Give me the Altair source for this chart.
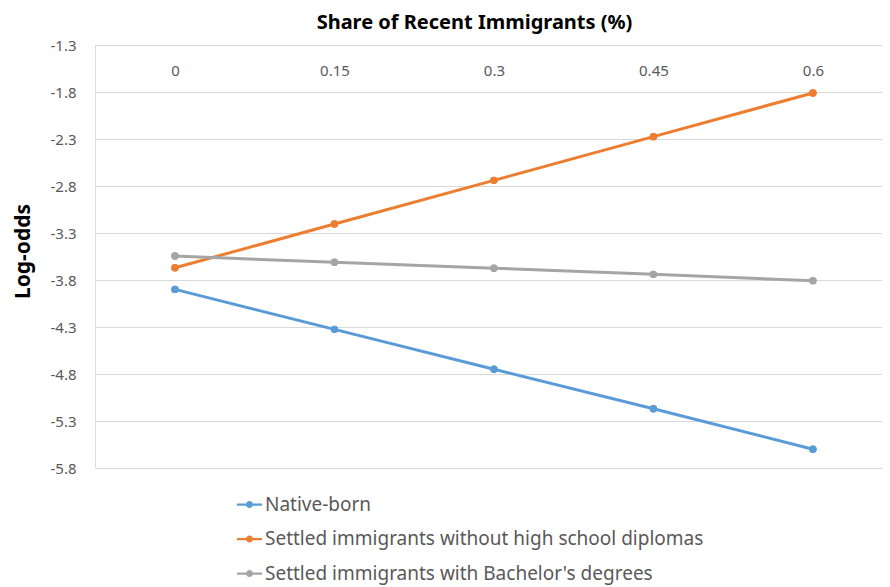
import altair as alt
import pandas as pd

shares = [0, 0.15, 0.3, 0.45, 0.6]
series_names = [
    "Native-born",
    "Settled immigrants without high school diplomas",
    "Settled immigrants with Bachelor's degrees",
]
native_born = [-3.90, -4.325, -4.75, -5.17, -5.60]
no_diploma = [-3.67, -3.205, -2.74, -2.275, -1.81]
bachelors = [-3.545, -3.612, -3.675, -3.74, -3.807]
colors = ["#5b9bd5", "#ed7d31", "#a5a5a5"]
y_ticks = [-1.3, -1.8, -2.3, -2.8, -3.3, -3.8, -4.3, -4.8, -5.3, -5.8]

rows = []
for name, vals in zip(series_names, [native_born, no_diploma, bachelors]):
    for s, v in zip(shares, vals):
        rows.append({"share": s, "logodds": v, "series": name})
df = pd.DataFrame(rows)

FONT = "Noto Sans"
legend_path = ("M-1,-0.09L-0.26,-0.09L-0.26,0.09L-1,0.09Z "
               "M0.26,-0.09L1,-0.09L1,0.09L0.26,0.09Z "
               "M0.28,0A0.28,0.28,0,1,1,-0.28,0A0.28,0.28,0,1,1,0.28,0Z")

color_scale = alt.Scale(domain=series_names, range=colors)
legend = alt.Legend(
    title=None, orient="none", legendX=142, legendY=447,
    symbolType=legend_path, symbolSize=625, symbolStrokeWidth=0,
    symbolOpacity=1,
    labelFont=FONT, labelFontSize=19, labelColor="#595959",
    labelLimit=700, rowPadding=11.5, labelOffset=3,
)

x_enc = alt.X(
    "share:Q",
    scale=alt.Scale(domain=[-0.0752, 0.665], nice=False, zero=False),
    axis=alt.Axis(
        orient="top", values=shares, labelExpr="datum.value + ''",
        title=None, grid=False, domain=False, ticks=False,
        labelPadding=-33, labelFont=FONT, labelFontSize=15,
        labelColor="#595959",
    ),
)
y_enc = alt.Y(
    "logodds:Q",
    scale=alt.Scale(domain=[-5.8, -1.3], nice=False, zero=False),
    axis=alt.Axis(
        values=y_ticks, labelExpr="datum.value + ''", title="Log-odds",
        titleFont=FONT, titleFontSize=21, titleFontWeight="bold",
        titleColor="#000000", titleX=-72, titleY=206, titleAngle=-90,
        titleBaseline="middle", titleAlign="center",
        grid=True, gridColor="#d9d9d9", gridWidth=1,
        domain=False, ticks=False, labelPadding=19,
        labelFont=FONT, labelFontSize=15, labelColor="#595959",
    ),
)

points = alt.Chart(df).mark_point(filled=True, size=55, opacity=1).encode(
    x=x_enc, y=y_enc,
    color=alt.Color("series:N", scale=color_scale, legend=legend, sort=series_names),
)
lines = alt.Chart(df).mark_line(strokeWidth=3).encode(
    x=x_enc, y=y_enc,
    color=alt.Color("series:N", scale=color_scale, legend=legend, sort=series_names),
)

chart = alt.layer(points, lines, points).properties(
    width=787, height=423,
    title=alt.Title(
        "Share of Recent Immigrants (%)", font=FONT, fontSize=20,
        fontWeight="bold", color="#000000", anchor="middle",
        frame="group", dx=-14, offset=5,
    ),
    autosize=alt.AutoSizeParams(type="none"),
    padding={"left": 87, "top": 37, "right": 0, "bottom": 117},
).configure_view(stroke=None).configure(background="white")

chart.save("out.html", embed_options={"renderer": "svg", "actions": False})
